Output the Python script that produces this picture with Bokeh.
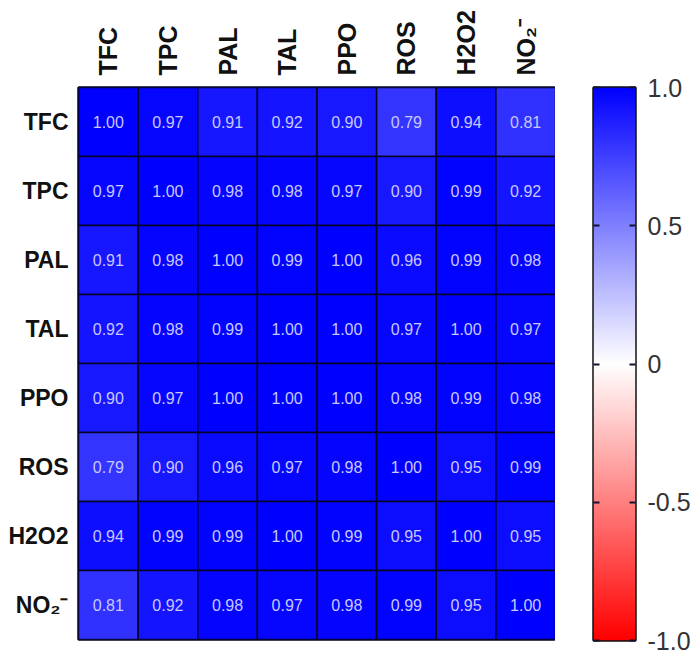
import numpy as np
from bokeh.plotting import figure
from bokeh.layouts import row
from bokeh.models import LinearColorMapper, ColumnDataSource, LinearAxis, FixedTicker, Range1d
from bokeh.transform import transform
from bokeh.core.properties import value
from bokeh.embed import file_html
from bokeh.resources import INLINE

labels = ["TFC", "TPC", "PAL", "TAL", "PPO", "ROS", "H2O2", "NO₂⁻"]
matrix = [
    [1.00, 0.97, 0.91, 0.92, 0.90, 0.79, 0.94, 0.81],
    [0.97, 1.00, 0.98, 0.98, 0.97, 0.90, 0.99, 0.92],
    [0.91, 0.98, 1.00, 0.99, 1.00, 0.96, 0.99, 0.98],
    [0.92, 0.98, 0.99, 1.00, 1.00, 0.97, 1.00, 0.97],
    [0.90, 0.97, 1.00, 1.00, 1.00, 0.98, 0.99, 0.98],
    [0.79, 0.90, 0.96, 0.97, 0.98, 1.00, 0.95, 0.99],
    [0.94, 0.99, 0.99, 1.00, 0.99, 0.95, 1.00, 0.95],
    [0.81, 0.92, 0.98, 0.97, 0.98, 0.99, 0.95, 1.00],
]
cbar_ticks = [-1.0, -0.5, 0.0, 0.5, 1.0]
cbar_tick_labels = {-1.0: "-1.0", -0.5: "-0.5", 0.0: "0", 0.5: "0.5", 1.0: "1.0"}

# red -> white -> blue palette
palette = []
for i in range(256):
    t = i / 255.0
    if t < 0.5:
        s = t / 0.5
        r, g, b = 255, int(round(255 * s)), int(round(255 * s))
    else:
        s = (t - 0.5) / 0.5
        r, g, b = int(round(255 * (1 - s))), int(round(255 * (1 - s))), 255
    palette.append("#%02x%02x%02x" % (r, g, b))
mapper = LinearColorMapper(palette=palette, low=-1, high=1)

xs, ys, vals, txt = [], [], [], []
for i, rl in enumerate(labels):
    for j, cl in enumerate(labels):
        xs.append(cl)
        ys.append(rl)
        vals.append(matrix[i][j])
        txt.append("%.2f" % matrix[i][j])
src = ColumnDataSource(dict(x=xs, y=ys, v=vals, t=txt))

p = figure(x_range=labels, y_range=list(reversed(labels)), x_axis_location="above",
           frame_width=477, frame_height=552, min_border_left=78, min_border_top=86,
           min_border_right=0, min_border_bottom=14, output_backend="svg",
           toolbar_location=None)
p.rect("x", "y", width=1, height=1, source=src, fill_color=transform("v", mapper),
       line_color="#050520", line_width=1.5)
p.text("x", "y", text="t", source=src, text_align="center", text_baseline="middle",
       text_font=value("Liberation Sans"), text_font_size="16px", text_color="#c8c8ff")
p.grid.visible = False
p.outline_line_color = "#050520"
p.outline_line_width = 2.5
for ax in [p.xaxis[0], p.yaxis[0]]:
    ax.axis_line_color = None
    ax.major_tick_line_color = None
    ax.minor_tick_line_color = None
    ax.major_label_text_font = "Liberation Sans"
    ax.major_label_text_font_style = "bold"
    ax.major_label_text_color = "#111111"
p.xaxis.major_label_text_font_size = "25px"
p.yaxis.major_label_text_font_size = "23px"
p.xaxis.major_label_orientation = "vertical"
p.xaxis.major_label_standoff = 6
p.yaxis.major_label_standoff = 4

# colour bar
p2 = figure(x_range=Range1d(0, 1), y_range=Range1d(-1, 1), frame_width=42, frame_height=553,
            min_border_left=38, min_border_top=87, min_border_right=60, min_border_bottom=14,
            output_backend="svg", toolbar_location=None, x_axis_type=None, y_axis_type=None)
ramp = np.linspace(-1, 1, 256).reshape(-1, 1)
p2.image(image=[ramp], x=0, y=-1, dw=1, dh=2, color_mapper=mapper)
p2.grid.visible = False
p2.outline_line_color = "#111111"
p2.outline_line_width = 2.5
ax_r = LinearAxis(ticker=FixedTicker(ticks=cbar_ticks), major_label_overrides=cbar_tick_labels)
ax_l = LinearAxis(ticker=FixedTicker(ticks=cbar_ticks), major_label_text_color=None)
for ax in (ax_r, ax_l):
    ax.axis_line_color = None
    ax.major_tick_in = 6
    ax.major_tick_out = 0
    ax.major_tick_line_width = 2
    ax.major_tick_line_color = "#111133"
    ax.minor_tick_line_color = None
ax_r.major_label_text_font = "Liberation Sans"
ax_r.major_label_text_font_size = "25px"
ax_r.major_label_text_color = "#333333"
ax_r.major_label_standoff = 12
p2.add_layout(ax_r, "right")
p2.add_layout(ax_l, "left")

layout = row(p, p2, spacing=0)
open("out.html", "w").write(file_html(layout, INLINE))
